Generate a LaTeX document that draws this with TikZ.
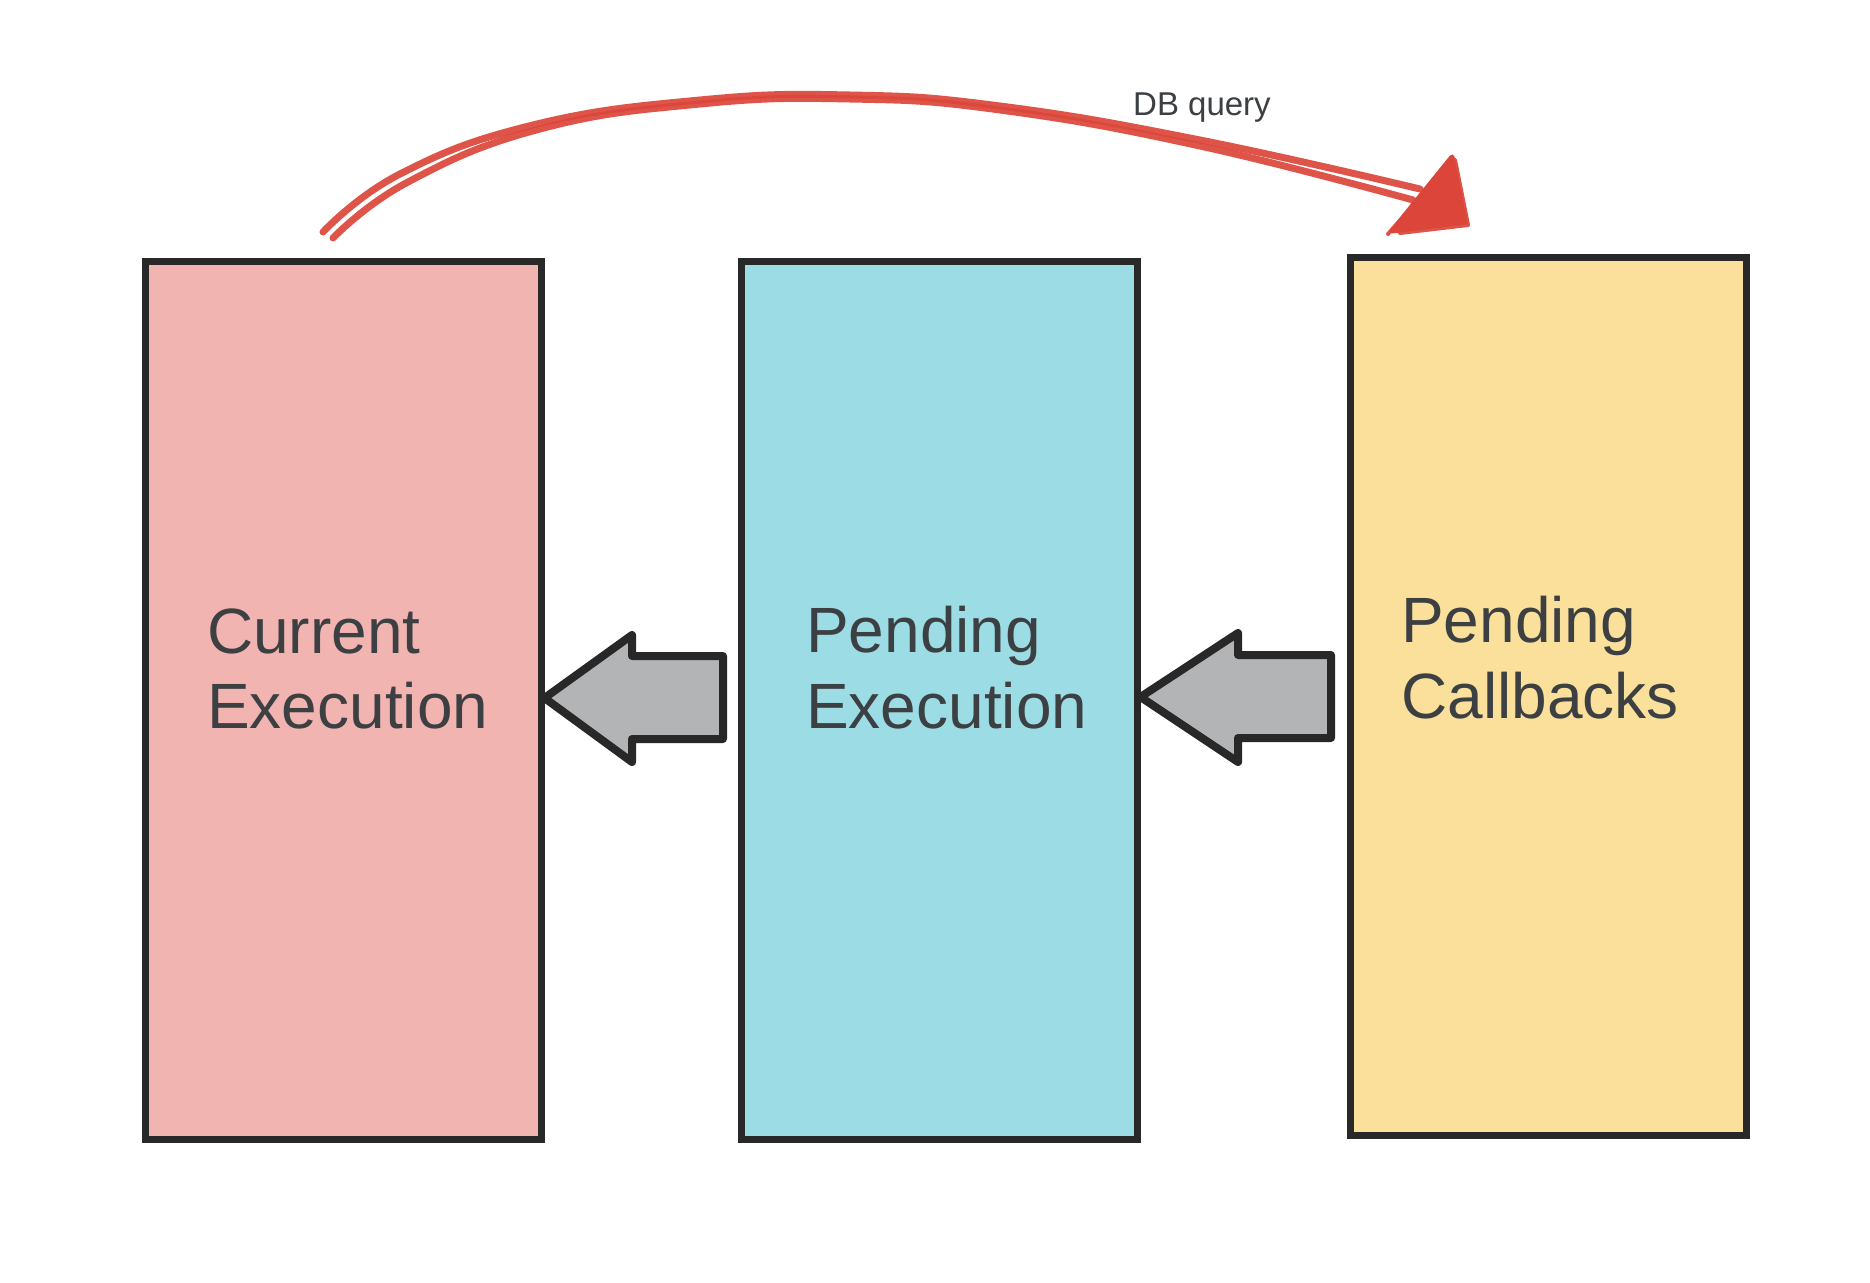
\documentclass[tikz,border=0pt]{standalone}
\usepackage{fontspec}
\setmainfont{Liberation Sans}
\usetikzlibrary{calc}
\definecolor{pinkc}{RGB}{242,180,176}
\definecolor{cyanc}{RGB}{156,221,229}
\definecolor{yelc}{RGB}{250,224,154}
\definecolor{edgec}{RGB}{40,40,40}
\definecolor{txtc}{RGB}{60,64,67}
\definecolor{grayc}{RGB}{179,180,181}
\definecolor{redc}{RGB}{220,70,58}
\tikzset{
  box/.style={draw=edgec, line width=7pt, minimum width=396pt, minimum height=878pt, inner sep=0pt},
  lbl/.style={anchor=base west, inner sep=0pt, text=txtc, font=\fontsize{64}{75}\selectfont},
  blockarrow/.style={draw=edgec, fill=grayc, line width=8pt, line join=round},
  redline/.style={draw=redc, line width=7pt, line cap=round, line join=round, opacity=0.92},
  redhead/.style={draw=redc, fill=redc, line width=5pt, line join=round},
  qlbl/.style={anchor=base west, text=txtc, inner sep=0pt, font=\fontsize{33}{38}\selectfont}
}
\begin{document}
\begin{tikzpicture}[x=1pt,y=-1pt]
\useasboundingbox (0,0) rectangle (1870,1282);
\fill[white] (0,0) rectangle (1870,1282);
% boxes
\node[box, fill=pinkc] (b1) at (343,700) {};
\node[box, fill=cyanc] (b2) at (939,700) {};
\node[box, fill=yelc] (b3) at (1548,696.5) {};
% labels
\node[lbl] (t1a) at (207,653) {Current};
\node[lbl] (t1b) at (207,728) {Execution};
\node[lbl] (t2a) at (806,652) {Pending};
\node[lbl] (t2b) at (806,728) {Execution};
\node[lbl] (t3a) at (1401,642) {Pending};
\node[lbl] (t3b) at (1401,718) {Callbacks};
% block arrows
\draw[blockarrow] (b1.east |- 0,698) -- (632,635) -- (632,656) -- (723,656) -- (723,739) -- (632,739) -- (632,762) -- cycle;
\draw[blockarrow] (b2.east |- 0,697) -- (1238,633) -- (1238,655) -- (1331,655) -- (1331,738) -- (1238,738) -- (1238,762) -- cycle;
% red arrow
\coordinate (rs1) at (323,232);
\coordinate (rs2) at (333,238);
\coordinate (re1) at (1420,189);
\coordinate (re2) at (1413,200);
\draw[redline] plot[smooth, tension=0.75] coordinates {(rs1) (400,174) (533,125) (700,100) (850,95) (1000,106) (1200,140) (re1)};
\draw[redline] plot[smooth, tension=0.75] coordinates {(rs2) (408,182) (540,129) (700,104) (850,99) (1000,110) (1200,146) (re2)};
\draw[redhead] (1452,157) -- (1392,231) -- (1465,222) -- cycle;
\draw[redline, line width=4pt] (1388,234) -- (1455,160) -- (1468,225) -- (1400,233);
\node[qlbl] (q) at (1133,115) {DB query};
\end{tikzpicture}
\end{document}
